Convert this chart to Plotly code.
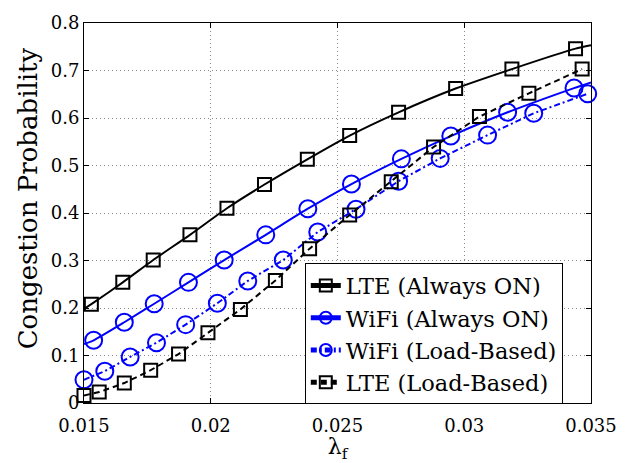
import plotly.graph_objects as go

# Arrival rate values and congestion probabilities for each scheme.
# The first/last entries of the "Always ON" series are the curve ends (no marker).
lte_on_x = [0.0150, 0.01529, 0.01653, 0.01773, 0.01918, 0.02064, 0.02212, 0.02381,
            0.02548, 0.02741, 0.02966, 0.03188, 0.03439, 0.0350]
lte_on_y = [0.198, 0.208, 0.254, 0.301, 0.354, 0.410, 0.460, 0.513,
            0.563, 0.612, 0.662, 0.703, 0.746, 0.753]

wifi_on_x = [0.0150, 0.01538, 0.01659, 0.01777, 0.01912, 0.02053, 0.02217, 0.02383,
             0.02555, 0.02752, 0.02947, 0.03171, 0.03433, 0.0350]
wifi_on_y = [0.124, 0.132, 0.170, 0.209, 0.254, 0.301, 0.354, 0.409,
             0.461, 0.514, 0.562, 0.612, 0.663, 0.675]

wifi_lb_x = [0.0150, 0.01582, 0.01682, 0.01786, 0.01901, 0.02026, 0.02146, 0.02286,
             0.02422, 0.02573, 0.02741, 0.02905, 0.03092, 0.03274, 0.03487]
wifi_lb_y = [0.049, 0.067, 0.097, 0.127, 0.165, 0.210, 0.257, 0.301,
             0.360, 0.408, 0.467, 0.515, 0.564, 0.610, 0.651]

lte_lb_x = [0.0150, 0.0156, 0.01659, 0.01763, 0.01873, 0.01989, 0.02117, 0.02255,
            0.0239, 0.02548, 0.02712, 0.02879, 0.0306, 0.03255, 0.03465]
lte_lb_y = [0.016, 0.023, 0.042, 0.069, 0.103, 0.148, 0.197, 0.258,
            0.325, 0.396, 0.466, 0.539, 0.603, 0.652, 0.703]

x_ticks = [0.015, 0.02, 0.025, 0.03, 0.035]
x_tick_labels = ["0.015", "0.02", "0.025", "0.03", "0.035"]
y_ticks = [0, 0.1, 0.2, 0.3, 0.4, 0.5, 0.6, 0.7, 0.8]
y_tick_labels = ["0", "0.1", "0.2", "0.3", "0.4", "0.5", "0.6", "0.7", "0.8"]

FONT = "DejaVu Serif"
BLUE = "#0000FF"
BLACK = "#000000"


def end_trimmed_sizes(n, size):
    # curve ends carry no marker
    return [0] + [size] * (n - 2) + [0]


fig = go.Figure()

fig.add_trace(go.Scatter(
    x=lte_on_x, y=lte_on_y, mode="lines+markers", name="LTE (Always ON)",
    line=dict(color=BLACK, width=2, shape="spline", smoothing=0.6),
    marker=dict(symbol="square-open", size=end_trimmed_sizes(len(lte_on_x), 13),
                opacity=1, color=BLACK, line=dict(width=2, color=BLACK)),
    cliponaxis=False,
))

fig.add_trace(go.Scatter(
    x=wifi_on_x, y=wifi_on_y, mode="lines+markers", name="WiFi (Always ON)",
    line=dict(color=BLUE, width=2, shape="spline", smoothing=0.6),
    marker=dict(symbol="circle-open", size=end_trimmed_sizes(len(wifi_on_x), 17),
                opacity=1, color=BLUE, line=dict(width=2, color=BLUE)),
    cliponaxis=False,
))

fig.add_trace(go.Scatter(
    x=wifi_lb_x, y=wifi_lb_y, mode="lines+markers", name="WiFi (Load-Based)",
    line=dict(color=BLUE, width=2, dash="6px,3px,2px,3px"),
    marker=dict(symbol="circle-open", size=17,
                color=BLUE, line=dict(width=2, color=BLUE)),
    cliponaxis=False,
))

fig.add_trace(go.Scatter(
    x=lte_lb_x, y=lte_lb_y, mode="lines+markers", name="LTE (Load-Based)",
    line=dict(color=BLACK, width=2, dash="6px,4px"),
    marker=dict(symbol="square-open", size=13,
                color=BLACK, line=dict(width=2, color=BLACK)),
    cliponaxis=False,
))

axis_common = dict(
    showline=True, linecolor=BLACK, linewidth=1, mirror="ticks",
    ticks="inside", ticklen=5, tickcolor=BLACK, tickwidth=1,
    showgrid=True, gridcolor="#888888", gridwidth=1, griddash="1px,3px",
    zeroline=False, tickfont=dict(family=FONT, size=18, color=BLACK),
)

fig.update_xaxes(
    range=[0.015, 0.035], tickvals=x_ticks, ticktext=x_tick_labels,
    ticklabelstandoff=6,
    title=dict(text="λ<sub>f</sub>", font=dict(family=FONT, size=22, color=BLACK), standoff=0),
    **axis_common,
)
fig.update_yaxes(
    range=[0, 0.8], tickvals=y_ticks, ticktext=y_tick_labels,
    **axis_common,
)

# y-axis title placed as rotated text for exact positioning
fig.add_annotation(
    text="Congestion Probability", textangle=-90,
    xref="paper", yref="paper", x=(27 - 84) / 519, y=0.5395,
    xanchor="center", yanchor="middle", showarrow=False,
    font=dict(family=FONT, size=26, color=BLACK),
)

fig.update_layout(
    width=629, height=463,
    margin=dict(l=84, r=26, t=17, b=54),
    paper_bgcolor="white", plot_bgcolor="white",
    font=dict(family=FONT, color=BLACK),
    legend=dict(
        x=0.4355, y=0.3673, xanchor="left", yanchor="top",
        bgcolor="white", bordercolor=BLACK, borderwidth=1,
        font=dict(family=FONT, size=22.5, color=BLACK),
        itemsizing="constant", tracegroupgap=0,
    ),
    showlegend=True,
)

fig.write_html("out.html")
